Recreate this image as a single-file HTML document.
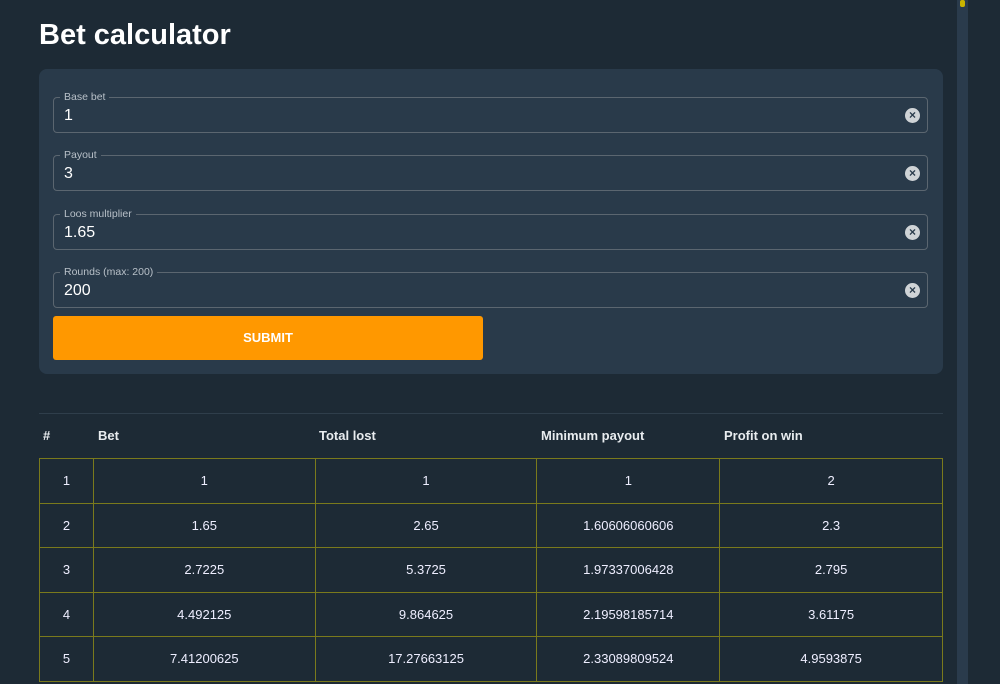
<!DOCTYPE html>
<html style="width:1000px;height:684px;overflow:hidden"><head><meta charset="utf-8"><style>
*{box-sizing:border-box;margin:0;padding:0}
body{width:1000px;height:684px;overflow:hidden;background:#1d2a35;font-family:"Liberation Sans",Arial,sans-serif;color:#fff;position:relative}
h1{position:absolute;left:39px;top:19px;font-size:29px;font-weight:bold;color:#fff}
.panel{position:absolute;left:39px;top:69px;width:904px;height:305px;background:#293a4a;border-radius:8px}
.f{position:absolute;left:14px;width:875px;height:36px;border:1px solid #5b6670;border-radius:4px}
.f label{position:absolute;left:6px;top:-8px;font-size:10.5px;color:#b8c0c8;background:#293a4a;padding:0 4px;line-height:14px}
.f span{position:absolute;left:10px;top:9px;font-size:16px;color:#fff}
.f i{position:absolute;right:7px;top:10px;width:15px;height:15px;border-radius:50%;background:#cfd3d6;color:#293a4a;font-style:normal;font-size:12px;line-height:15px;text-align:center;font-weight:bold}
.btn{position:absolute;left:14px;top:247px;width:430px;height:44px;background:#ff9800;border-radius:3px;text-align:center;line-height:44px;font-size:13px;font-weight:bold;color:#fff}
.sep{position:absolute;left:39px;top:413px;width:904px;height:1px;background:#2f3e4b}
.hd{position:absolute;top:428px;font-size:13px;font-weight:bold;color:#e8ecef}
.tw{position:absolute;left:39px;top:458px;width:904px;height:224px;overflow:hidden}
table{border-collapse:collapse;width:904px}
td{border:1px solid #7a7a1c;height:44.5px;text-align:center;font-size:13px;color:#eef}
.sb{position:absolute;left:957px;top:0;width:11px;height:684px;background:#2a3b4c}
.th{position:absolute;left:960px;top:0;width:5px;height:7px;background:#c9b400;border-radius:2px}
</style></head><body>
<h1>Bet calculator</h1>
<div class="panel">
<div class="f" style="top:28px"><label>Base bet</label><span>1</span><i>×</i></div>
<div class="f" style="top:86px"><label>Payout</label><span>3</span><i>×</i></div>
<div class="f" style="top:145px"><label>Loos multiplier</label><span>1.65</span><i>×</i></div>
<div class="f" style="top:203px"><label>Rounds (max: 200)</label><span>200</span><i>×</i></div>
<div class="btn">SUBMIT</div>
</div>
<div class="sep"></div>
<div class="hd" style="left:43px">#</div>
<div class="hd" style="left:98px">Bet</div>
<div class="hd" style="left:319px">Total lost</div>
<div class="hd" style="left:541px">Minimum payout</div>
<div class="hd" style="left:724px">Profit on win</div>
<div class="tw">
<table>
<colgroup><col style="width:54px"><col style="width:222px"><col style="width:222px"><col style="width:183px"><col style="width:223px"></colgroup>
<tr><td>1</td><td>1</td><td>1</td><td>1</td><td>2</td></tr>
<tr><td>2</td><td>1.65</td><td>2.65</td><td>1.60606060606</td><td>2.3</td></tr>
<tr><td>3</td><td>2.7225</td><td>5.3725</td><td>1.97337006428</td><td>2.795</td></tr>
<tr><td>4</td><td>4.492125</td><td>9.864625</td><td>2.19598185714</td><td>3.61175</td></tr>
<tr><td>5</td><td>7.41200625</td><td>17.27663125</td><td>2.33089809524</td><td>4.9593875</td></tr>
</table>
</div>
<div class="sb"></div><div class="th"></div>
</body></html>
